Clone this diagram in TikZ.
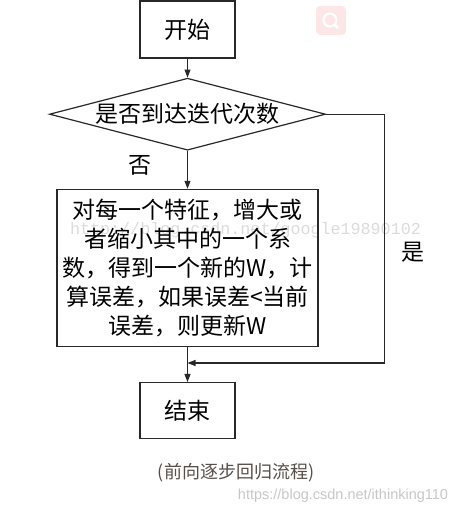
\documentclass[tikz,border=0pt]{standalone}
\usepackage{fontspec}
\setmainfont{Noto Sans CJK SC}
\newfontfamily\sitefont{Liberation Sans}
\newfontfamily\markfont{Liberation Mono}
\usetikzlibrary{positioning,shapes.geometric,arrows.meta}
\definecolor{linegray}{RGB}{40,40,40}
\definecolor{capgray}{RGB}{88,78,72}
\definecolor{iconpink}{RGB}{253,230,230}

\begin{document}
\begin{tikzpicture}[x=1pt,y=1pt,
  box/.style={draw=linegray,line width=1.2pt,font=\fontsize{23}{29}\selectfont},
  flow/.style={draw=linegray,line width=1.1pt,-{Triangle[length=8pt,width=6pt]}},
  lbl/.style={font=\fontsize{23}{29}\selectfont}]
  \useasboundingbox (0,0) rectangle (468,514);

  \fill[iconpink,rounded corners=4pt] (316,479) rectangle (346,508);
  \draw[white,line width=2pt] (330,494) circle (6.5);
  \draw[white,line width=3pt,line cap=round] (334.5,489) -- (337.5,486.5);

  \node[font=\markfont\fontsize{16.7}{20}\selectfont,text=black!14] (mark) at (245.5,284) {http://blog.csdn.net/google19890102};

  \node[box,minimum width=95pt,minimum height=57pt] (start) at (187.5,484.5) {开始};
  \node[box,diamond,aspect=3.83,inner sep=0pt,minimum width=276pt,minimum height=72pt,below=19pt of start] (check) {是否到达迭代次数};
  \node[box,minimum width=261pt,minimum height=157pt,align=center,below=38pt of check] (update) {对每一个特征，增大或\\者缩小其中的一个系\\数，得到一个新的W，计\\算误差，如果误差<当前\\误差，则更新W};
  \node[box,minimum width=95pt,minimum height=56pt,below=35pt of update] (stop) {结束};
  \coordinate[below=16pt of update.south] (join);

  \draw[flow] (start) -- (check);
  \draw[flow] (check) -- (update);
  \draw[flow] (update) -- (stop);
  \draw[flow] (check.east) -- ++(58,0) |- (join);

  \node[lbl] (no) at (140,349) {否};
  \node[lbl] (yes) at (413,262) {是};

  \node[font=\fontsize{18}{22}\selectfont,text=capgray] (caption) at (236,41) {(前向逐步回归流程)};
  \node[font=\sitefont\fontsize{14.5}{17}\selectfont,text=black!22] (site) at (343,18) {https://blog.csdn.net/ithinking110};
\end{tikzpicture}
\end{document}
